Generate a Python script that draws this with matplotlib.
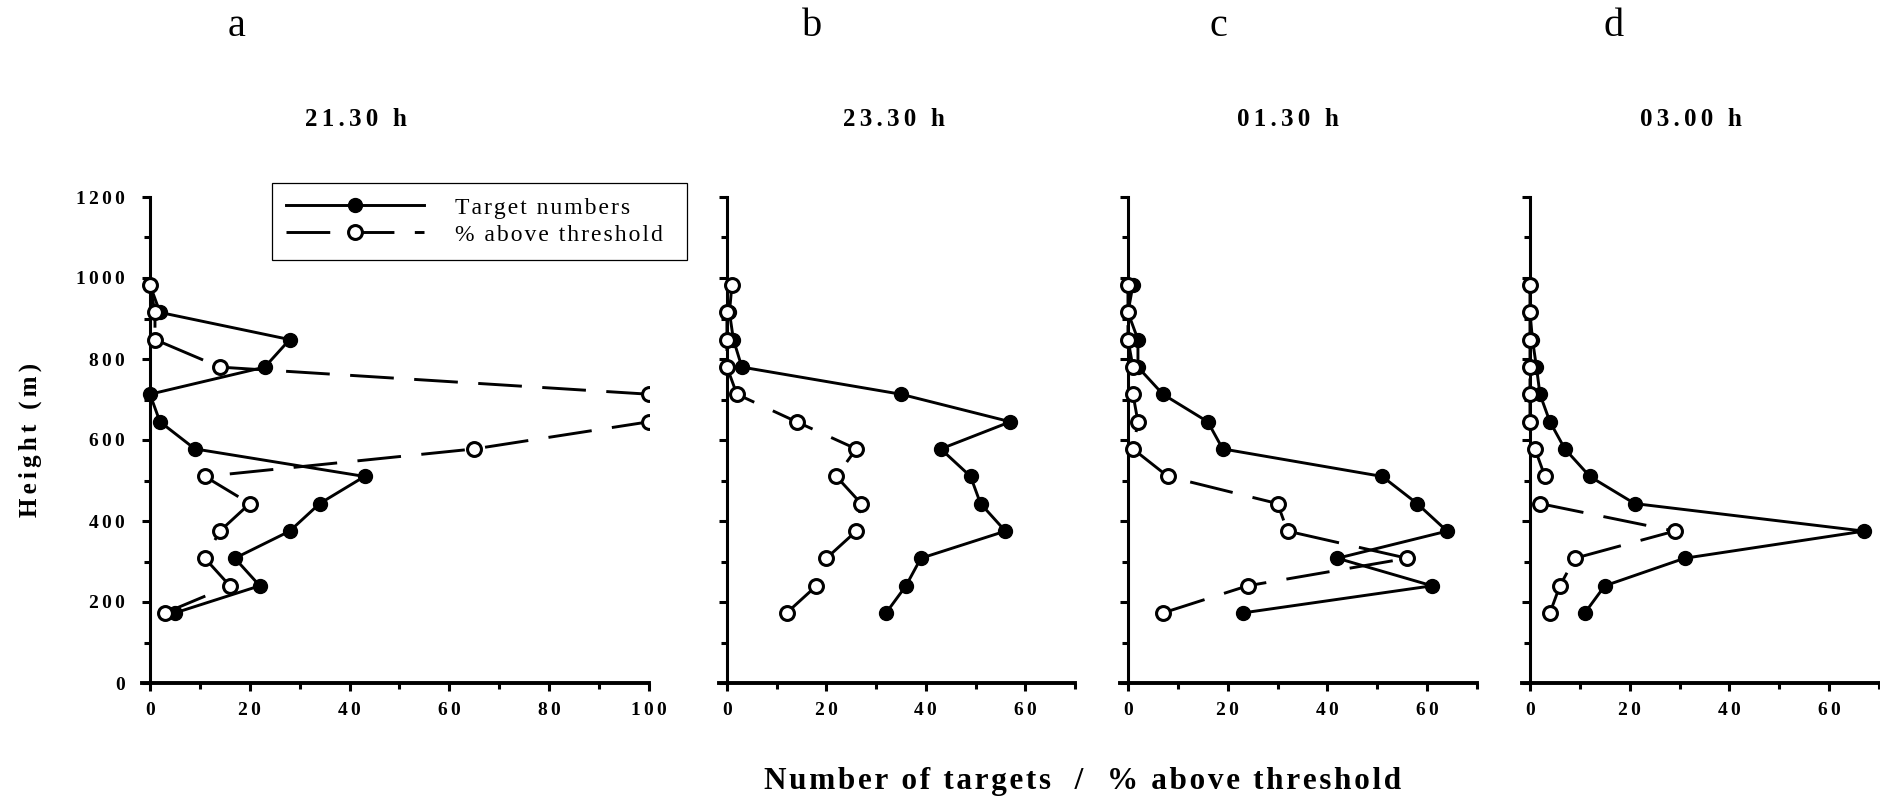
import matplotlib
matplotlib.use('Agg')
import matplotlib.pyplot as plt
from matplotlib.ticker import MultipleLocator, FuncFormatter

plt.rcParams['font.family'] = ['Liberation Serif', 'DejaVu Serif']

# alturas (m), de baixo para cima
alturas = [173, 240, 308, 375, 443, 510, 578, 645, 713, 780, 848, 915, 983]

letras = ['a', 'b', 'c', 'd']
horarios = ['21.30 h', '23.30 h', '01.30 h', '03.00 h']
xmaximo = [100, 70, 70, 70]

alvosA = [5, 22, 17, 28, 34, 43, 9, 2, 0, 23, 28, 2, 0]
limiarA = [3, 16, 11, 14, 20, 11, 65, 100, 100, 14, 1, 1, 0]
alvosB = [32, 36, 39, 56, 51, 49, 43, 57, 35, 3, 1.3, 0.5, 1]
limiarB = [12, 18, 20, 26, 27, 22, 26, 14, 2, 0, 0, 0, 1]
alvosC = [23, 61, 42, 64, 58, 51, 19, 16, 7, 2, 2, 0, 1]
limiarC = [7, 24, 56, 32, 30, 8, 1, 2, 1, 1, 0, 0, 0]
alvosD = [11, 15, 31, 67, 21, 12, 7, 4, 2, 1.3, 0.5, 0, 0]
limiarD = [4, 6, 9, 29, 2, 3, 1, 0, 0, 0, 0, 0, 0]

alvos = [alvosA, alvosB, alvosC, alvosD]
limiar = [limiarA, limiarB, limiarC, limiarD]


def espacar(texto, n=1):
    # imita o espacamento largo das letras do original
    return ('\u200a' * n).join(texto)


W, H = 1880, 801
fig = plt.figure(figsize=(W / 100, H / 100), dpi=100)

# posicoes em pixels (esquerda, largura)
caixas = [(142, 507), (719, 356), (1120, 357), (1522, 357)]
base = (H - 683) / H
altura = 486 / H

eixos = []
for i in range(4):
    esq, larg = caixas[i]
    ax = fig.add_axes([esq / W, base, larg / W, altura])
    eixos.append(ax)

    ax.plot(alvos[i], alturas, color='black', lw=2.1, marker='o', ms=10,
            mfc='black', mec='black', label=espacar('Target numbers'), zorder=3)
    ax.plot(limiar[i], alturas, color='black', lw=2.1, dashes=(15, 7),
            marker='o', ms=10, mfc='white', mec='black', mew=2.2,
            label=espacar('% above threshold'), zorder=4)

    ax.set_xlim(-1.6, xmaximo[i])
    ax.set_ylim(0, 1200)
    ax.spines['top'].set_visible(False)
    ax.spines['right'].set_visible(False)
    ax.spines['left'].set_position(('data', 0))
    ax.spines['left'].set_linewidth(2.2)
    ax.spines['bottom'].set_linewidth(2.8)

    ax.xaxis.set_major_locator(MultipleLocator(20))
    ax.xaxis.set_minor_locator(MultipleLocator(10))
    ax.yaxis.set_major_locator(MultipleLocator(200))
    ax.yaxis.set_minor_locator(MultipleLocator(100))
    ax.tick_params(which='both', direction='out', width=2.2)
    ax.tick_params(which='major', length=6)
    ax.tick_params(which='minor', length=4)
    ax.tick_params(axis='x', which='major', pad=8)
    ax.tick_params(axis='y', which='major', pad=12)

    ax.xaxis.set_major_formatter(FuncFormatter(lambda v, p: espacar('%g' % v, 2)))
    if i == 0:
        ax.yaxis.set_major_formatter(FuncFormatter(lambda v, p: espacar('%g' % v, 2)))
    else:
        ax.yaxis.set_major_formatter(FuncFormatter(lambda v, p: ''))
    for rotulo in ax.get_xticklabels() + ax.get_yticklabels():
        rotulo.set_fontweight('bold')
        rotulo.set_fontsize(14)

# titulos e letras
posTitulo = [356, 894, 1288, 1691]
posLetra = [237, 812, 1218, 1614]
for i in range(4):
    fig.text(posTitulo[i] / W, 1 - 120 / H, espacar(horarios[i], 2), ha='center', va='center',
             fontsize=18, fontweight='bold')
    fig.text(posLetra[i] / W, 1 - 26 / H, letras[i], ha='center', va='center', fontsize=29)

fig.text(30 / W, 1 - 440 / H, espacar('Height (m)', 2), rotation=90, ha='center', va='center',
         fontsize=18, fontweight='bold')
fig.text(1083 / W, 1 - 782 / H, espacar('Number of targets  /  % above threshold'),
         ha='center', va='center', fontsize=22.5, fontweight='bold')

leg = eixos[0].legend(loc='upper left', bbox_to_anchor=(0.2564, 0.858, 0.8185, 0.1708),
                      mode='expand', borderaxespad=0, fontsize=17, handlelength=5.85,
                      handletextpad=1.3, borderpad=0.6, labelspacing=0.23,
                      fancybox=False, edgecolor='black', framealpha=1)
leg.get_frame().set_linewidth(0.9)

fig.savefig('out.png', dpi=100)
